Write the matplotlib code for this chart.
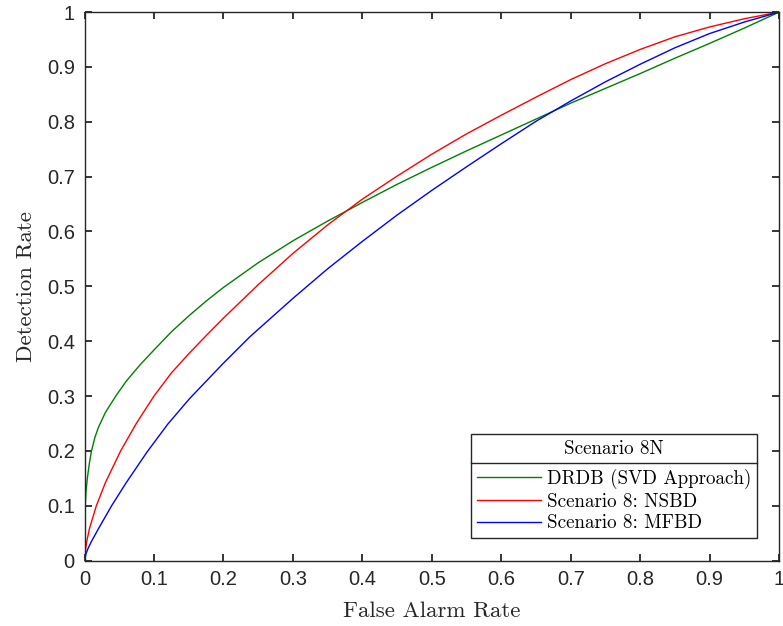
import matplotlib
matplotlib.use("Agg")
import matplotlib.pyplot as plt
from matplotlib.lines import Line2D

# ROC curves
drdb_x = [0, 0.0001, 0.0003, 0.001, 0.002, 0.004, 0.007, 0.01, 0.015, 0.02, 0.03,
          0.045, 0.06, 0.08, 0.1, 0.125, 0.15, 0.175, 0.2, 0.25, 0.3, 0.35, 0.4,
          0.45, 0.5, 0.55, 0.6, 0.65, 0.7, 0.75, 0.8, 0.85, 0.9, 0.95, 1.0]
drdb_y = [0, 0.05, 0.07, 0.10, 0.125, 0.15, 0.178, 0.20, 0.225, 0.243, 0.27,
          0.30, 0.327, 0.357, 0.384, 0.417, 0.446, 0.473, 0.498, 0.543, 0.583, 0.619, 0.653,
          0.686, 0.717, 0.747, 0.776, 0.805, 0.834, 0.861, 0.888, 0.916, 0.943, 0.971, 1.0]

nsbd_x = [0, 0.001, 0.003, 0.007, 0.017, 0.03, 0.052, 0.075, 0.1, 0.125, 0.15,
          0.175, 0.2, 0.25, 0.3, 0.35, 0.4, 0.45, 0.5, 0.55, 0.6, 0.65,
          0.7, 0.75, 0.8, 0.85, 0.9, 0.95, 1.0]
nsbd_y = [0, 0.017, 0.034, 0.058, 0.1, 0.142, 0.2, 0.251, 0.3, 0.342, 0.377,
          0.410, 0.442, 0.503, 0.560, 0.612, 0.659, 0.701, 0.741, 0.778, 0.812, 0.845,
          0.877, 0.906, 0.932, 0.955, 0.973, 0.988, 1.0]

mfbd_x = [0, 0.002, 0.005, 0.01, 0.02, 0.039, 0.06, 0.09, 0.12, 0.151, 0.2,
          0.238, 0.3, 0.35, 0.4, 0.45, 0.5, 0.55, 0.6, 0.65, 0.7, 0.75, 0.8,
          0.85, 0.9, 0.95, 1.0]
mfbd_y = [0, 0.012, 0.022, 0.035, 0.058, 0.1, 0.142, 0.198, 0.249, 0.295, 0.36,
          0.408, 0.478, 0.532, 0.582, 0.63, 0.675, 0.718, 0.76, 0.801, 0.838, 0.873, 0.905,
          0.935, 0.961, 0.982, 1.0]

labels = ['DRDB (SVD Approach)', 'Scenario 8: NSBD', 'Scenario 8: MFBD']
colors = ['#008000', '#ff0000', '#0000ff']
ticks = [0, 0.1, 0.2, 0.3, 0.4, 0.5, 0.6, 0.7, 0.8, 0.9, 1]
tick_labels = ['0', '0.1', '0.2', '0.3', '0.4', '0.5', '0.6', '0.7', '0.8', '0.9', '1']

dark = '#262626'
serif = 'cmr10'

fig = plt.figure(figsize=(7.83, 6.26), dpi=100)
ax = fig.add_axes([0.108, 0.1046, 0.887, 0.876])

for xs, ys, lab, c in zip([drdb_x, nsbd_x, mfbd_x], [drdb_y, nsbd_y, mfbd_y], labels, colors):
    ax.plot(xs, ys, color=c, lw=1.0, label=lab)

ax.set_xlim(0, 1)
ax.set_ylim(0, 1)
ax.set_xticks(ticks)
ax.set_yticks(ticks)
ax.set_xticklabels(tick_labels, fontfamily='Liberation Sans', fontsize=14.5, color=dark)
ax.set_yticklabels(tick_labels, fontfamily='Liberation Sans', fontsize=14.5, color=dark)
ax.tick_params(direction='in', length=5, width=1.3, color=dark, pad=7,
               top=True, right=True)
for s in ax.spines.values():
    s.set_color(dark)
    s.set_linewidth(1.0)

ax.set_xlabel('False Alarm Rate', fontfamily=serif, fontsize=16.5, color=dark, labelpad=9)
ax.set_ylabel('Detection Rate', fontfamily=serif, fontsize=16.5, color=dark, labelpad=8)

leg = ax.legend(title='Scenario 8N', loc='lower right', bbox_to_anchor=(0.968, 0.041),
                prop={'family': serif, 'size': 13.7},
                title_fontproperties={'family': serif, 'size': 13.7},
                fancybox=False, framealpha=1, edgecolor=dark, borderpad=0.3,
                handlelength=3.4, handletextpad=0.28, labelspacing=0.2,
                borderaxespad=0)
leg.get_frame().set_linewidth(1.0)
leg._legend_box.sep = 8

# divider under the legend title, as in the original figure
fig.canvas.draw()
fr = leg.get_frame().get_window_extent()
tt = leg.get_title().get_window_extent()
ydiv = tt.y0 - 5
inv = fig.transFigure.inverted()
(x0, y0), (x1, _) = inv.transform([(fr.x0, ydiv), (fr.x1, ydiv)])
fig.add_artist(Line2D([x0, x1], [y0, y0], transform=fig.transFigure, color=dark, lw=1.0))

fig.savefig('out.png', dpi=100)
